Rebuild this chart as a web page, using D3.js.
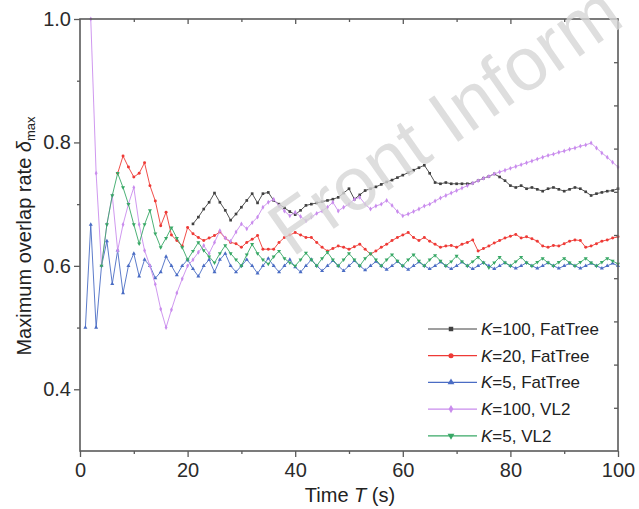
<!DOCTYPE html>
<html>
<head>
<meta charset="utf-8">
<script src="https://cdn.jsdelivr.net/npm/d3@7"></script>
<style>
  body { margin: 0; background: #fff; }
  svg { display: block; }
  text { font-family: "Liberation Sans", Arial, sans-serif; }
</style>
</head>
<body>
<div id="app"></div>
<script>
// ---- data (one sample per second) ----
const xTicks = [0, 20, 40, 60, 80, 100];
const xMinorTicks = [10, 30, 50, 70, 90];
const yTicks = [0.4, 0.6, 0.8, 1.0];
const yMinorTicks = [0.5, 0.7, 0.9];

const legendK = ['100', '20', '5', '100', '5'];
const legendTopo = ['FatTree', 'FatTree', 'FatTree', 'VL2', 'VL2'];

const k100FatTreeStart = 21;
const k100FatTree = [
  0.668, 0.679, 0.692, 0.703, 0.718, 0.703, 0.69, 0.674, 0.684, 0.695, 0.706, 0.717, 0.702, 0.717, 0.719, 0.706,
  0.70, 0.694, 0.688, 0.683, 0.69, 0.698, 0.70, 0.702, 0.704, 0.706, 0.708, 0.711, 0.718, 0.725, 0.708, 0.715,
  0.722, 0.725, 0.728, 0.732, 0.736, 0.739, 0.743, 0.747, 0.751, 0.755, 0.759, 0.763, 0.75, 0.735, 0.733, 0.735,
  0.733, 0.733, 0.733, 0.733, 0.734, 0.738, 0.742, 0.745,
  0.749, 0.744, 0.738, 0.73, 0.727, 0.73, 0.725, 0.727, 0.724, 0.721, 0.725, 0.727, 0.724, 0.721, 0.724, 0.727,
  0.725, 0.72, 0.714, 0.717, 0.719, 0.721, 0.722, 0.725
];

const k20FatTreeStart = 7;
const k20FatTree = [
  0.75, 0.778, 0.76, 0.744, 0.75, 0.767, 0.73, 0.705, 0.665, 0.687, 0.65, 0.641, 0.632, 0.662,
  0.652, 0.646, 0.641, 0.645, 0.649, 0.655, 0.645, 0.638, 0.636, 0.63, 0.638, 0.643, 0.649, 0.627, 0.627, 0.627,
  0.638, 0.646, 0.65, 0.654,
  0.65, 0.646, 0.646, 0.638, 0.63, 0.624, 0.628, 0.632, 0.63, 0.627, 0.631, 0.635, 0.627, 0.619, 0.624, 0.63,
  0.635, 0.641, 0.646, 0.65,
  0.654, 0.646, 0.641, 0.646, 0.64, 0.635, 0.63, 0.632, 0.633, 0.63, 0.635, 0.638, 0.642, 0.624, 0.628, 0.632,
  0.637, 0.641, 0.645, 0.648,
  0.651, 0.645, 0.647, 0.644, 0.64, 0.632, 0.63, 0.633, 0.632, 0.636, 0.64, 0.642, 0.641, 0.63, 0.632, 0.636,
  0.64, 0.642, 0.645, 0.647
];

const k5FatTreeStart = 1;
const k5FatTree = [
  0.50, 0.667, 0.50, 0.60, 0.64, 0.571, 0.625, 0.556, 0.60, 0.62, 0.583, 0.61,
  0.60, 0.58, 0.59, 0.615, 0.60, 0.585, 0.60, 0.61, 0.595, 0.583, 0.60, 0.61, 0.59,
  0.61, 0.62, 0.60, 0.59, 0.60, 0.61, 0.60, 0.588, 0.60, 0.612, 0.60, 0.59, 0.60, 0.61, 0.598,
  0.59, 0.60, 0.61, 0.60, 0.592, 0.60, 0.608, 0.60, 0.592, 0.60, 0.608, 0.60, 0.593, 0.60, 0.607, 0.60, 0.594, 0.60, 0.607, 0.60,
  0.594, 0.60, 0.606, 0.60, 0.595, 0.60, 0.606, 0.60, 0.595, 0.60, 0.606, 0.60, 0.595, 0.60, 0.605, 0.60, 0.595, 0.60, 0.605, 0.60,
  0.596, 0.60, 0.605, 0.60, 0.596, 0.60, 0.605, 0.60, 0.596, 0.60, 0.604, 0.60, 0.596, 0.60, 0.604, 0.60, 0.596, 0.60, 0.604, 0.60
];

const k100VL2Start = 2;
const k100VL2 = [
  1.0, 0.75, 0.60, 0.667, 0.714, 0.625, 0.667, 0.70, 0.727, 0.667, 0.625, 0.60, 0.57, 0.53, 0.50, 0.529, 0.556, 0.579, 0.60,
  0.61, 0.622, 0.633, 0.62, 0.638, 0.657, 0.645, 0.64, 0.655, 0.668, 0.66, 0.67, 0.679, 0.695, 0.703, 0.708, 0.697, 0.689, 0.681, 0.687,
  0.68, 0.673, 0.679, 0.685, 0.689, 0.695, 0.703, 0.689, 0.695, 0.70, 0.708, 0.711, 0.70, 0.692, 0.697, 0.70, 0.706, 0.698, 0.688, 0.681,
  0.684, 0.688, 0.692, 0.697, 0.70, 0.705, 0.71, 0.714, 0.718, 0.722, 0.726, 0.73, 0.734, 0.738, 0.742, 0.745, 0.749, 0.752, 0.755, 0.758,
  0.761, 0.764, 0.767, 0.77, 0.773, 0.776, 0.779, 0.781, 0.784, 0.786, 0.789, 0.791, 0.794, 0.796, 0.799, 0.791, 0.783, 0.776, 0.768, 0.76
];

const k5VL2Start = 4;
const k5VL2 = [
  0.60, 0.667, 0.714, 0.75, 0.727, 0.70, 0.667, 0.636, 0.667, 0.69, 0.652, 0.63, 0.645, 0.662, 0.645, 0.63, 0.61,
  0.624, 0.638, 0.625, 0.615, 0.605, 0.62, 0.633, 0.62, 0.61, 0.60, 0.618, 0.635, 0.62, 0.61, 0.603, 0.615, 0.624, 0.612, 0.605, 0.60,
  0.61, 0.621, 0.61, 0.60, 0.612, 0.622, 0.61, 0.60, 0.61, 0.62, 0.61, 0.60, 0.612, 0.62, 0.61, 0.60, 0.61, 0.618, 0.608, 0.60,
  0.61, 0.618, 0.608, 0.60, 0.61, 0.617, 0.608, 0.60, 0.607, 0.616, 0.607, 0.60, 0.607, 0.614, 0.605, 0.597, 0.605, 0.614, 0.605, 0.60,
  0.607, 0.614, 0.605, 0.60, 0.606, 0.612, 0.605, 0.60, 0.606, 0.612, 0.605, 0.60, 0.606, 0.612, 0.605, 0.60, 0.606, 0.612, 0.608, 0.603
];

// ---- styling ----
const W = 639, H = 509;
const colors = ['#404040', '#ee3a36', '#4a6cc4', '#c98ced', '#38a866'];
const symbols = [d3.symbolSquare, d3.symbolCircle, d3.symbolTriangle, d3.symbolDiamond, d3.symbolTriangle];
const symbolRotate = [0, 0, 0, 0, 180];

const series = [
  { start: k100FatTreeStart, values: k100FatTree },
  { start: k20FatTreeStart, values: k20FatTree },
  { start: k5FatTreeStart, values: k5FatTree },
  { start: k100VL2Start, values: k100VL2 },
  { start: k5VL2Start, values: k5VL2 }
];

const x = d3.scaleLinear().domain([0, 100]).range([80, 618]);
const y = d3.scaleLinear().domain([0.3, 1.0]).range([451, 19]);

const svg = d3.select('#app').append('svg')
  .attr('width', W).attr('height', H);

// lines + markers
const line = d3.line().x(d => x(d.t)).y(d => y(d.v));
series.forEach((s, i) => {
  const pts = s.values.map((v, j) => ({ t: s.start + j, v }));
  const g = svg.append('g');
  g.append('path')
    .datum(pts)
    .attr('d', line)
    .attr('fill', 'none')
    .attr('stroke', colors[i])
    .attr('stroke-width', 0.9);
  const sym = d3.symbol().type(symbols[i]).size(7);
  g.selectAll('path.m').data(pts).join('path')
    .attr('class', 'm')
    .attr('d', sym)
    .attr('transform', d => `translate(${x(d.t)},${y(d.v)}) rotate(${symbolRotate[i]})`)
    .attr('fill', colors[i]);
});

// ---- axes ----
const axisColor = '#5a5a5a';
function styleAxis(g, showText) {
  g.select('.domain').remove();
  g.selectAll('.tick line').attr('stroke', axisColor).attr('stroke-width', 1.3);
  g.selectAll('.tick text')
    .attr('fill', '#2b2b2b')
    .style('font-size', '20px');
  if (!showText) g.selectAll('.tick text').remove();
}

// bottom
svg.append('g').attr('transform', `translate(0,${y(0.3)})`)
  .call(d3.axisBottom(x).tickValues(xTicks).tickSize(6).tickPadding(6).tickFormat(d3.format('d')))
  .call(g => styleAxis(g, true));
svg.append('g').attr('transform', `translate(0,${y(0.3)})`)
  .call(d3.axisBottom(x).tickValues(xMinorTicks).tickSize(3).tickFormat(''))
  .call(g => styleAxis(g, false));
// left
svg.append('g').attr('transform', `translate(${x(0)},0)`)
  .call(d3.axisLeft(y).tickValues(yTicks).tickSize(6).tickPadding(3).tickFormat(d3.format('.1f')))
  .call(g => styleAxis(g, true));
svg.append('g').attr('transform', `translate(${x(0)},0)`)
  .call(d3.axisLeft(y).tickValues(yMinorTicks).tickSize(3).tickFormat(''))
  .call(g => styleAxis(g, false));
// top (inward)
svg.append('g').attr('transform', `translate(0,${y(1.0)})`)
  .call(d3.axisTop(x).tickValues(xTicks.slice(1, -1)).tickSize(-5).tickFormat(''))
  .call(g => styleAxis(g, false));
svg.append('g').attr('transform', `translate(0,${y(1.0)})`)
  .call(d3.axisTop(x).tickValues(xMinorTicks).tickSize(-3).tickFormat(''))
  .call(g => styleAxis(g, false));
// right (inward, 10 equal divisions)
const yRight = d3.scaleLinear().domain([0, 10]).range([y(0.3), y(1.0)]);
svg.append('g').attr('transform', `translate(${x(100)},0)`)
  .call(d3.axisRight(yRight).tickValues(d3.range(1, 10)).tickSize(-4).tickFormat(''))
  .call(g => styleAxis(g, false));

// frame
svg.append('rect')
  .attr('x', x(0)).attr('y', y(1.0))
  .attr('width', x(100) - x(0)).attr('height', y(0.3) - y(1.0))
  .attr('fill', 'none').attr('stroke', axisColor).attr('stroke-width', 1.6);

// ---- titles ----
const xt = svg.append('text')
  .attr('x', 350).attr('y', 502)
  .attr('text-anchor', 'middle')
  .attr('fill', '#222')
  .style('font-size', '20px');
xt.append('tspan').text('Time ');
xt.append('tspan').attr('font-style', 'italic').text('T');
xt.append('tspan').text(' (s)');

const yt = svg.append('text')
  .attr('transform', 'translate(31,236) rotate(-90)')
  .attr('text-anchor', 'middle')
  .attr('fill', '#222')
  .style('font-size', '20px');
yt.append('tspan').text('Maximum overlap rate ');
yt.append('tspan').attr('font-style', 'italic').text('δ');
yt.append('tspan').attr('dy', 4).style('font-size', '13px').text('max');

// ---- legend ----
const legend = svg.append('g');
legendK.forEach((k, i) => {
  const ly = 329 + i * 26.7;
  legend.append('line')
    .attr('x1', 428).attr('x2', 477).attr('y1', ly).attr('y2', ly)
    .attr('stroke', colors[i]).attr('stroke-width', 1.2);
  legend.append('path')
    .attr('d', d3.symbol().type(symbols[i]).size(20))
    .attr('transform', `translate(451,${ly}) rotate(${symbolRotate[i]})`)
    .attr('fill', colors[i]);
  const t = legend.append('text')
    .attr('x', 481).attr('y', ly + 6)
    .attr('fill', '#222')
    .style('font-size', '17px');
  t.append('tspan').attr('font-style', 'italic').text('K');
  t.append('tspan').text(`=${k}, ${legendTopo[i]}`);
});

// ---- watermark ----
svg.append('text')
  .attr('transform', 'translate(292,258) rotate(-35)')
  .attr('fill', '#d6d6d6')
  .attr('fill-opacity', 0.8)
  .style('font-size', '75px')
  .text('Front Inform');
</script>
</body>
</html>
